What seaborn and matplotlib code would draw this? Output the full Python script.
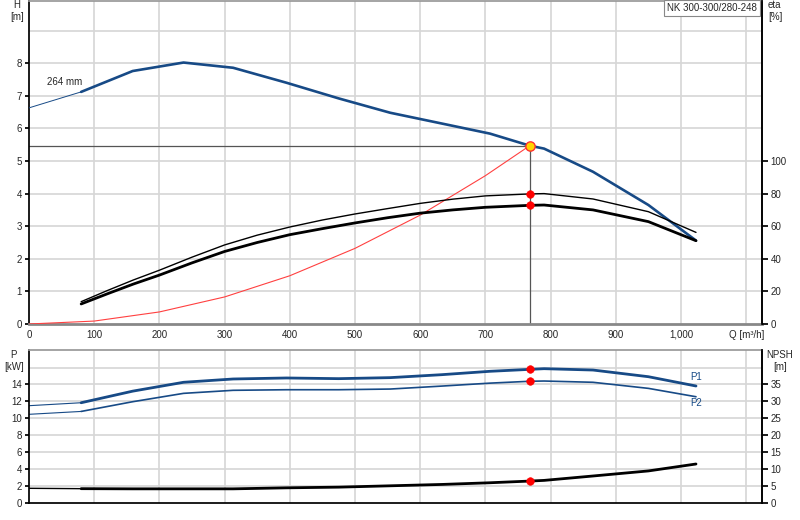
import pandas as pd
import seaborn as sns
import matplotlib.pyplot as plt

# flow points (m3/h) shared by the curves
q = [80, 159, 237, 313, 395, 475, 554, 633, 707, 768, 790, 865, 950, 1023]
q_ext = [0, 80]

# head curve H [m]
h_ext = [6.63, 7.12]
h = [7.12, 7.76, 8.02, 7.86, 7.40, 6.92, 6.48, 6.15, 5.84, 5.47, 5.38, 4.67, 3.65, 2.56]

# efficiencies [%]
q_eta = [80, 120, 160, 200, 250, 300, 350, 400, 450, 500, 550, 600, 650, 700, 768, 790, 865, 950, 1023]
eta_thin = [13.7, 20.5, 27.0, 33.0, 41.0, 48.5, 54.5, 59.5, 63.8, 67.5, 70.8, 74.0, 76.6, 78.6,
            79.8, 80.0, 76.7, 68.9, 56.2]
eta_thick = [12.3, 18.5, 24.5, 30.0, 37.5, 44.5, 50.0, 54.8, 58.5, 62.0, 65.2, 68.0, 70.0, 71.6,
             72.8, 73.0, 70.0, 62.8, 51.1]

# system curve
q_sys = [0, 100, 200, 300, 400, 500, 600, 700, 768]
h_sys = [0, 0.09, 0.37, 0.83, 1.48, 2.32, 3.34, 4.55, 5.47]

# power [kW]
p1_ext = [11.48, 11.83]
p1 = [11.83, 13.2, 14.25, 14.64, 14.76, 14.68, 14.8, 15.15, 15.55, 15.78, 15.86, 15.7, 14.91, 13.81]
p2_ext = [10.46, 10.8]
p2 = [10.8, 11.95, 12.94, 13.3, 13.37, 13.37, 13.45, 13.8, 14.15, 14.37, 14.4, 14.25, 13.53, 12.54]

# NPSH [m]
npsh_ext = [4.26, 4.15]
npsh = [4.15, 4.1, 4.1, 4.1, 4.4, 4.6, 5.0, 5.4, 5.9, 6.4, 6.6, 7.9, 9.4, 11.45]

# duty point
q_duty = 768
h_duty = 5.47
eta_duty = [79.8, 72.8]

x_ticks = [0, 100, 200, 300, 400, 500, 600, 700, 800, 900, 1000, 1100]
x_labels = ['0', '100', '200', '300', '400', '500', '600', '700', '800', '900', '1,000', 'Q [m³/h]']

sns.set_theme(style='white')
plt.rcParams['font.family'] = ['Liberation Sans', 'DejaVu Sans']
plt.rcParams['font.size'] = 7

blue = '#174a86'
grid_c = '#d6d6d6'

fig = plt.figure(figsize=(8, 5.2), dpi=100)
ax = fig.add_axes([29 / 800, 1 - 324 / 520, 733 / 800, 323.5 / 520])
ax2 = fig.add_axes([29 / 800, 1 - 502.7 / 520, 733 / 800, 152.7 / 520])
ax_eta = ax.twinx()
ax_npsh = ax2.twinx()

xmax = 733 / 0.652


def qx(px_x):
    # pixel column -> flow value
    return (px_x - 29) / 0.652


# ---- top chart ----
ax.set_xlim(0, xmax)
ax.set_ylim(0, 323.5 / 32.6)
ax_eta.set_ylim(0, 323.5 / 32.6 * 20)
ax.set_axisbelow(True)
for v in x_ticks[1:]:
    ax.axvline(v, color=grid_c, lw=1.2, zorder=0)
for v in range(1, 10):
    ax.axhline(v, color=grid_c, lw=1.2, zorder=0)

ax.plot([0, q_duty], [h_duty, h_duty], color='#555555', lw=0.9, zorder=2)
ax.plot([q_duty, q_duty], [0, h_duty], color='#555555', lw=0.9, zorder=2)

sns.lineplot(x=q_sys, y=h_sys, ax=ax, color='#ff4040', lw=0.8, sort=False, estimator=None, zorder=3)
sns.lineplot(x=q_ext, y=h_ext, ax=ax, color=blue, lw=0.7, sort=False, estimator=None, zorder=3)
sns.lineplot(x=q, y=h, ax=ax, color=blue, lw=1.9, sort=False, estimator=None, zorder=4)

sns.lineplot(x=q_eta, y=eta_thin, ax=ax_eta, color='black', lw=1.0, sort=False, estimator=None)
sns.lineplot(x=q_eta, y=eta_thick, ax=ax_eta, color='black', lw=2.0, sort=False, estimator=None)
sns.scatterplot(x=[q_duty, q_duty], y=eta_duty, ax=ax_eta,
                color='red', s=30, edgecolor='red', zorder=5)
sns.scatterplot(x=[q_duty], y=[h_duty], ax=ax, color='#ffd400', s=45,
                edgecolor='#ff3030', linewidth=1, zorder=6)

ax.set_xticks(x_ticks)
ax.set_xticklabels(x_labels)
ax.set_yticks(range(0, 9))
ax.tick_params(axis='x', length=2, color='#aaaaaa', pad=2, labelsize=7)
ax.tick_params(axis='y', left=True, length=3, color='black', pad=2, labelsize=7)
ax_eta.set_yticks(range(0, 101, 20))
ax_eta.tick_params(axis='y', right=True, length=4, color='black', pad=2, labelsize=7)
ax.set_xlabel('')
ax.set_ylabel('')
ax_eta.set_ylabel('')
ax.spines['left'].set_color('black')
ax.spines['bottom'].set_color('#888888')
ax.spines['bottom'].set_linewidth(2)
ax.spines['top'].set_color('#999999')
ax_eta.spines['right'].set_color('black')
for s in ['left', 'top', 'bottom']:
    ax_eta.spines[s].set_visible(False)

ax.text(qx(47), (324 - 82) / 32.6, '264 mm', fontsize=7, va='center', ha='left')
ax.text(0.993, 0.992, 'NK 300-300/280-248', transform=ax.transAxes, fontsize=7,
        ha='right', va='top',
        bbox=dict(boxstyle='square,pad=0.3', fc='white', ec='#888888', lw=0.8))

# ---- bottom chart ----
ax2.set_xlim(0, xmax)
ax2.set_ylim(0, 152.7 / 8.45)
ax_npsh.set_ylim(0, 152.7 / 8.45 * 2.5)
for v in x_ticks[1:]:
    ax2.axvline(v, color=grid_c, lw=1.2, zorder=0)
for v in range(2, 17, 2):
    ax2.axhline(v, color=grid_c, lw=1.2, zorder=0)

sns.lineplot(x=q_ext, y=p1_ext, ax=ax2, color=blue, lw=0.8, sort=False, estimator=None)
sns.lineplot(x=q, y=p1, ax=ax2, color=blue, lw=2.0, sort=False, estimator=None)
sns.lineplot(x=q_ext, y=p2_ext, ax=ax2, color=blue, lw=0.8, sort=False, estimator=None)
sns.lineplot(x=q, y=p2, ax=ax2, color=blue, lw=1.2, sort=False, estimator=None)
sns.scatterplot(x=[q_duty, q_duty], y=[p1[9], p2[9]], ax=ax2, color='red', s=30,
                edgecolor='red', zorder=5)

sns.lineplot(x=q_ext, y=npsh_ext, ax=ax_npsh, color='black', lw=1.0, sort=False, estimator=None)
sns.lineplot(x=q, y=npsh, ax=ax_npsh, color='black', lw=2.0, sort=False, estimator=None)
sns.scatterplot(x=[q_duty], y=[npsh[9]], ax=ax_npsh, color='red', s=30, edgecolor='red', zorder=5)

ax2.set_xticks(x_ticks)
ax2.set_xticklabels([])
ax2.tick_params(axis='x', length=0)
ax2.set_yticks(range(0, 15, 2))
ax2.tick_params(axis='y', left=True, length=3, color='black', pad=2, labelsize=7)
ax_npsh.set_yticks(range(0, 36, 5))
ax_npsh.tick_params(axis='y', right=True, length=4, color='black', pad=2, labelsize=7)
ax2.set_xlabel('')
ax2.set_ylabel('')
ax_npsh.set_ylabel('')
ax2.spines['left'].set_color('black')
ax2.spines['bottom'].set_color('black')
ax2.spines['top'].set_color('#999999')
ax_npsh.spines['right'].set_color('black')
for s in ['left', 'top', 'bottom']:
    ax_npsh.spines[s].set_visible(False)

ax2.text(qx(690), (502.7 - 377) / 8.45, 'P1', color=blue, fontsize=7, va='center')
ax2.text(qx(690), (502.7 - 403) / 8.45, 'P2', color=blue, fontsize=7, va='center')


# axis captions
def px(x, y, s, ha='center'):
    fig.text(x / 800, 1 - y / 520, s, fontsize=7, ha=ha, va='center')


px(17, 5, 'H')
px(17, 17, '[m]')
px(768, 5, 'eta', ha='left')
px(768, 17, '[%]', ha='left')
px(13, 355, 'P')
px(14, 367, '[kW]')
px(780, 355, 'NPSH')
px(780, 367, '[m]')

fig.savefig('out.png', dpi=100)
